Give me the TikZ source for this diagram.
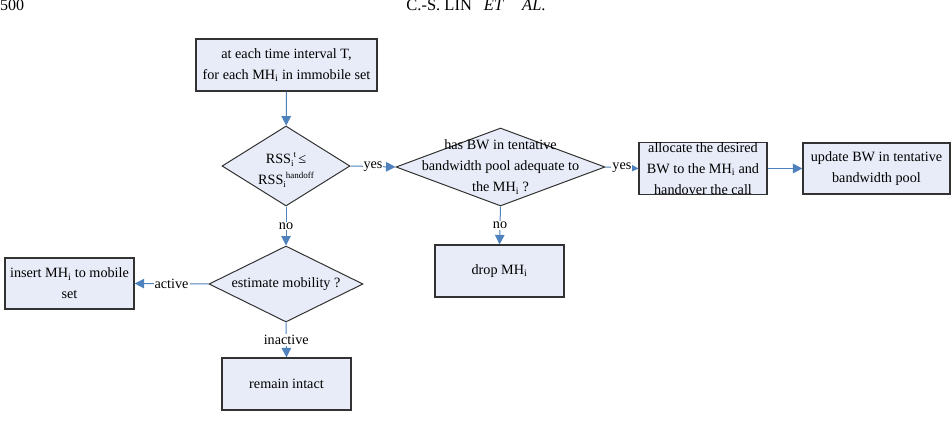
\documentclass[tikz,border=0pt]{standalone}
\usepackage{fontspec}
\setmainfont{Liberation Serif}
\usetikzlibrary{shapes.geometric,arrows.meta}
\definecolor{boxfill}{RGB}{232,236,248}
\definecolor{arrowblue}{RGB}{79,129,189}
\definecolor{edgegray}{RGB}{50,50,50}
\newcommand\mysubsup[2]{\raisebox{-3pt}{\fontsize{9}{9}\selectfont #1}\raisebox{6pt}{\fontsize{9}{9}\selectfont #2}}
\begin{document}
\begin{tikzpicture}[x=1pt,y=-1pt,
  font=\fontsize{14.2}{21}\selectfont,
  procbox/.style={draw=edgegray,line width=1.2pt,fill=boxfill,rectangle,inner sep=0pt,align=center},
  decision/.style={draw=edgegray,line width=1pt,fill=boxfill,diamond,inner sep=0pt},
  flow/.style={draw=arrowblue,line width=1pt,-{Triangle[length=9.5pt,width=9.5pt]}},
  lbl/.style={fill=white,inner sep=1pt,text=black}]
\useasboundingbox (0,0) rectangle (952,420);
% page header
\node[anchor=base west,inner sep=0pt,font=\fontsize{16}{18}\selectfont] (pg) at (0,10.5) {500};
\node[anchor=base,inner sep=0pt,font=\fontsize{16.5}{18}\selectfont] (hdr) at (476,10.5) {C.-S. LIN\hspace{12pt}\textit{ET}\hspace{18pt}\textit{AL}.};
% nodes
\node[procbox,minimum width=181pt,minimum height=52pt] (start) at (286.5,65)
  {at each time interval T,\\for each MH\textsubscript{i} in immobile set};
\node[decision,minimum width=128pt,minimum height=80pt] (d1) at (286,166) {};
\node[anchor=base,inner sep=0pt] (d1a) at (286,163) {RSS\mysubsup{i}{t}\,≤};
\node[anchor=base,inner sep=0pt] (d1b) at (286,184) {RSS\mysubsup{i}{handoff}};
\node[decision,minimum width=209pt,minimum height=78pt] (d2) at (500.5,167) {};
\node[align=center,inner sep=0pt] (d2t) at (500.5,167) {has BW in tentative\\bandwidth pool adequate to\\the MH\textsubscript{i} ?};
\node[procbox,minimum width=128pt,minimum height=51pt] (alloc) at (703,168.5)
  {allocate the desired\\BW to the MH\textsubscript{i} and\\handover the call};
\node[procbox,minimum width=147pt,minimum height=51pt] (upd) at (876.5,168.5)
  {update BW in tentative\\bandwidth pool};
\node[procbox,minimum width=129pt,minimum height=52pt] (drop) at (499.5,271) {drop MH\textsubscript{i}};
\node[decision,minimum width=154pt,minimum height=76pt] (d3) at (286,284) {};
\node[inner sep=0pt] (d3t) at (286,284) {estimate mobility ?};
\node[procbox,minimum width=129pt,minimum height=51pt] (ins) at (69.5,283.5)
  {insert MH\textsubscript{i} to mobile\\set};
\node[procbox,minimum width=129pt,minimum height=52pt] (rem) at (286.5,384) {remain intact};
% connectors
\draw[flow] (start) -- (d1);
\draw[flow] (d1.east) -- node[lbl] {yes} (d2.west);
\draw[flow] (d2.east) -- node[lbl] {yes} (alloc.west);
\draw[flow] (alloc) -- (upd);
\draw[flow] (d2.south) -- node[lbl] {no} (drop.north);
\draw[flow] (d1.south) -- node[lbl] {no} (d3.north);
\draw[flow] (d3.west) -- node[lbl] {active} (ins.east);
\draw[flow] (d3.south) -- node[lbl] {inactive} (rem.north);
\end{tikzpicture}
\end{document}
